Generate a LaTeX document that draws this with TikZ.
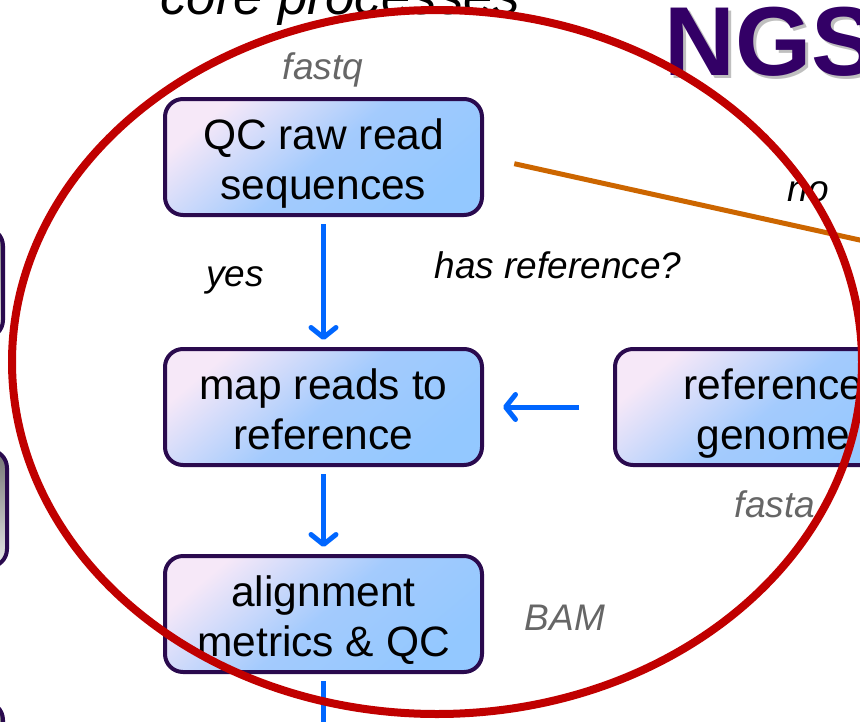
\documentclass[tikz,border=0pt]{standalone}
\usepackage{fontspec}
\setmainfont{Liberation Sans}
\usetikzlibrary{positioning, arrows.meta}
\definecolor{ngspurple}{HTML}{330066}
\definecolor{boxedge}{HTML}{2A0A4E}
\definecolor{boxpink}{HTML}{F6E8F8}
\definecolor{boxblue}{HTML}{80BEFF}
\definecolor{flowblue}{HTML}{0066FF}
\definecolor{noorange}{HTML}{CC6600}
\definecolor{ringred}{HTML}{C00000}
\tikzset{
  process/.style={
    rectangle, rounded corners=18pt,
    line width=4pt, draw=boxedge,
    top color=boxpink, bottom color=boxblue!85!white,
    middle color=boxblue!70!boxpink, shading angle=40,
    minimum width=317pt, minimum height=116pt,
    text height=90pt, text depth=6pt,
    align=center, font=\fontsize{42.5}{50}\selectfont
  },
  sidebox/.style={
    rounded corners=18pt, line width=4pt, draw=boxedge,
    top color=black!55, bottom color=black!8
  },
  filetype/.style={font=\fontsize{37}{44}\selectfont\itshape, text=black!60},
  decision/.style={font=\fontsize{37}{44}\selectfont\itshape},
  flow/.style={->, draw=flowblue, line width=5pt, shorten <=7pt, shorten >=7pt},
  noline/.style={draw=noorange, line width=5pt, shorten <=31pt}
}

\begin{document}
\begin{tikzpicture}[x=1pt, y=-1pt, node distance=130pt,
    >={Straight Barb[length=10pt, width=25pt, round]}]
  \path[use as bounding box, clip] (0,0) rectangle (860,721);

  % partly hidden boxes on the left
  \draw[sidebox] (-200,228) rectangle (3,338);
  \draw[sidebox] (-200,450) rectangle (7,567);
  \draw[sidebox] (-200,702) rectangle (3,820);

  % headings
  \node[anchor=base, font=\fontsize{53}{60}\selectfont\itshape] (heading) at (340,14) {core processes};
  \node[anchor=base west, font=\fontsize{98}{100}\selectfont\bfseries, text=black!25] at (664,78) {NGS};
  \node[anchor=base west, font=\fontsize{98}{100}\selectfont\bfseries, text=ngspurple] (ngs) at (661,75) {NGS};

  % core processes
  \node[process] (qc) at (323.5,157) {QC raw read\\sequences};
  \node[process] (map) [below=of qc] {map reads to\\reference};
  \node[process] (align) [below=87pt of map] {alignment\\metrics \& QC};
  \node[process] (refgen) [right=129pt of map] {reference\\genome};

  \coordinate (noend) at (1000,271);
  \coordinate (down) at (323.5,780);

  % labels
  \node[filetype] (fastq) at (323,70) {fastq};
  \node[filetype] (fasta) at (775,504) {fasta};
  \node[filetype] (bam) at (565,618) {BAM};
  \node[decision] (yes) at (235,280) {yes};
  \node[decision] (hasref) at (558,265) {has reference?};
  \node[decision] (no) at (808,192) {no};

  \draw[noline] (qc.east) -- (noend);
  \path[flow]
    (qc) edge (map)
    (map) edge (align)
    (refgen) edge[shorten <=34pt, shorten >=19pt] (map);
  \draw[flow] (align) -- (down);

  % ring round the core processes
  \draw[ringred, line width=8pt] (437,362) ellipse [x radius=425, y radius=352];
\end{tikzpicture}
\end{document}
